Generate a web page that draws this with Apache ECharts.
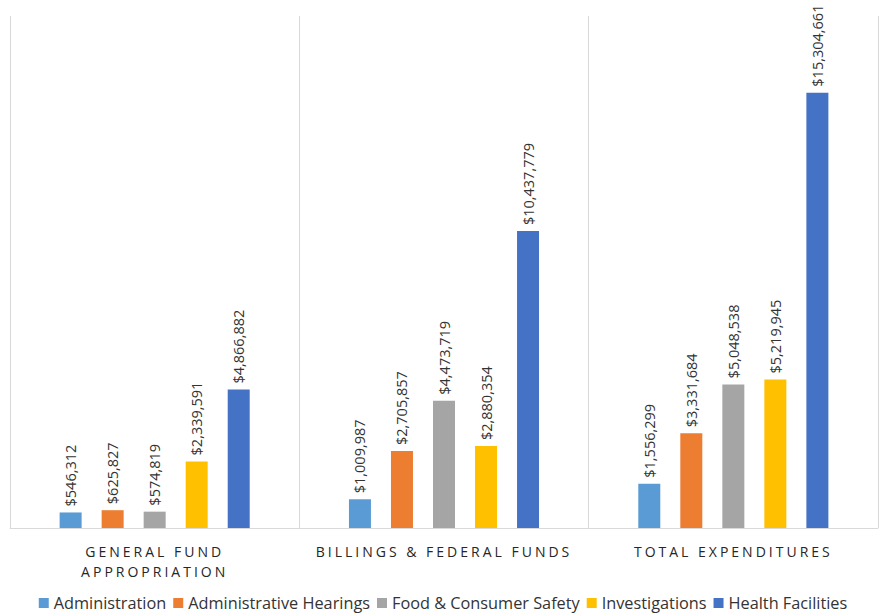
<!DOCTYPE html>
<html><head><meta charset="utf-8">
<script src="https://cdn.jsdelivr.net/npm/echarts@6/dist/echarts.min.js"></script>
<style>html,body{margin:0;padding:0;background:#fff}#c{width:886px;height:614px}</style>
</head><body><div id="c"></div>
<script>
var categories = ['GENERAL FUND\nAPPROPRIATION', 'BILLINGS & FEDERAL FUNDS', 'TOTAL EXPENDITURES'];
var seriesNames = ['Administration', 'Administrative Hearings', 'Food & Consumer Safety', 'Investigations', 'Health Facilities'];
var administration = [546312, 1009987, 1556299];
var adminHearings = [625827, 2705857, 3331684];
var foodSafety = [574819, 4473719, 5048538];
var investigations = [2339591, 2880354, 5219945];
var healthFacilities = [4866882, 10437779, 15304661];
var colors = ['#5B9BD5', '#ED7D31', '#A5A5A5', '#FFC000', '#4472C4'];
var allData = [administration, adminHearings, foodSafety, investigations, healthFacilities];

var spaced = {};
categories.join('\n').split('\n').forEach(function(s){ spaced[s] = true; });
function spaceLabels(){
  var texts = document.querySelectorAll('#c svg text');
  for (var i = 0; i < texts.length; i++) {
    if (spaced[texts[i].textContent]) {
      texts[i].setAttribute('letter-spacing', '3');
      texts[i].style.letterSpacing = '3px';
    }
  }
}

var font = '"Open Sans", sans-serif';
var chart = echarts.init(document.getElementById('c'), null, {renderer: 'svg'});
chart.on('rendered', spaceLabels);
chart.on('finished', spaceLabels);
chart.setOption({
  animation: false,
  color: colors,
  grid: {left: 10, right: 8, top: 16, bottom: 86, containLabel: false},
  legend: {
    bottom: 3, left: 'center', itemWidth: 10, itemHeight: 10, itemGap: 7, padding: 0,
    icon: 'rect',
    textStyle: {fontFamily: font, fontSize: 16.3, color: '#333333', padding: [0,0,0,0]},
    data: seriesNames
  },
  xAxis: {
    type: 'category', data: categories,
    axisLine: {lineStyle: {color: '#D9D9D9', width: 1}},
    axisTick: {show: false},
    splitLine: {show: true, lineStyle: {color: '#D9D9D9', width: 1}},
    axisLabel: {fontFamily: font, fontSize: 14, color: '#262626', margin: 13, lineHeight: 20}
  },
  yAxis: {
    type: 'value', min: 0, max: 18000000,
    axisLine: {show: false}, axisTick: {show: false}, axisLabel: {show: false},
    splitLine: {show: false}
  },
  series: seriesNames.map(function(n, i){
    return {
      name: n, type: 'bar', data: allData[i], barWidth: 22, barGap: '91%',
      label: {
        show: true, position: 'top', rotate: 90, align: 'left', verticalAlign: 'middle',
        distance: 6, fontFamily: font, fontSize: 14.5, color: '#333333',
        formatter: function(p){ return '$' + p.value.toLocaleString('en-US'); }
      }
    };
  })
});
spaceLabels();
setTimeout(spaceLabels, 0);
</script></body></html>
